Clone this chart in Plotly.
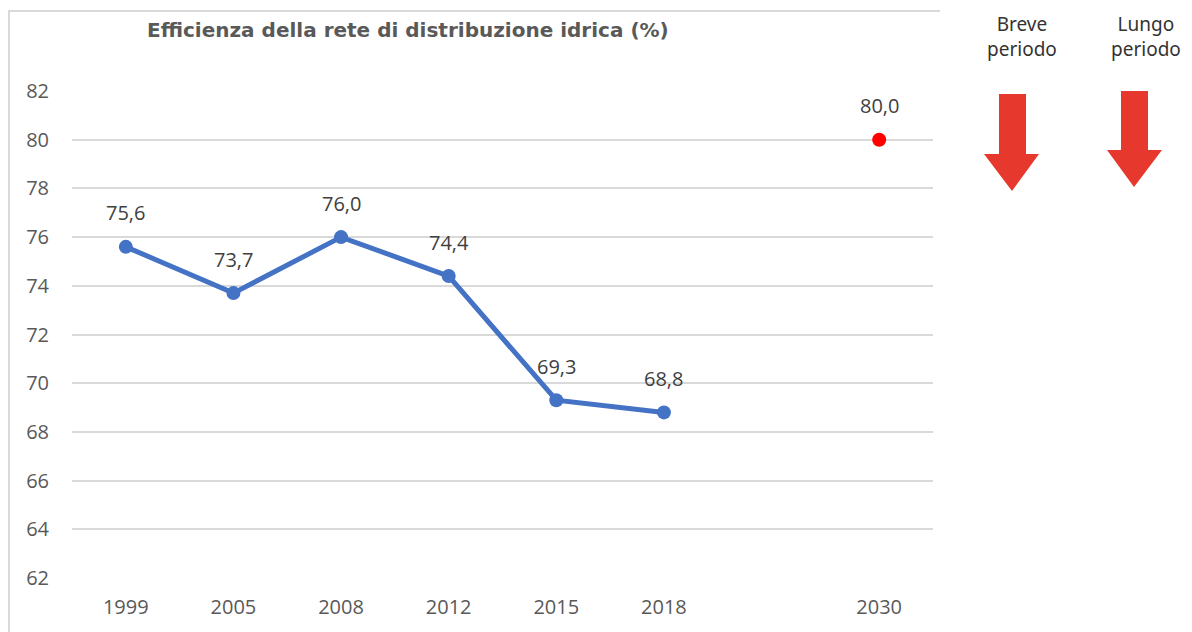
import plotly.graph_objects as go

# ---- data ----
categories = ["1999", "2005", "2008", "2012", "2015", "2018", " ", "2030"]
years = ["1999", "2005", "2008", "2012", "2015", "2018"]
efficiency = [75.6, 73.7, 76.0, 74.4, 69.3, 68.8]
target_year = ["2030"]
target_value = [80.0]
y_ticks = [62, 64, 66, 68, 70, 72, 74, 76, 78, 80, 82]
title_text = "Efficienza della rete di distribuzione idrica (%)"
side_labels = ["Breve<br>periodo", "Lungo<br>periodo"]

# the page body has an 8px default margin; work in screen pixels and offset
OFF = 8
W, H = 1192 - OFF, 632 - OFF
L, R, T, B = 72 - OFF, 259, 91 - OFF, 54
PW, PH = W - L - R, H - T - B


def px(x):
    return (x - OFF - L) / PW


def py(y):
    return (H - B - (y - OFF)) / PH


fmt = lambda v: f"{v:.1f}".replace(".", ",")

fig = go.Figure()
fig.add_trace(go.Scatter(
    x=years, y=efficiency, mode="lines+markers",
    line=dict(color="#4472C4", width=5),
    marker=dict(color="#4472C4", size=14),
    hoverinfo="skip", showlegend=False,
))
fig.add_trace(go.Scatter(
    x=target_year, y=target_value, mode="markers",
    marker=dict(color="#FF0000", size=14),
    hoverinfo="skip", showlegend=False,
))

annotations = []
for xv, yv in list(zip(years, efficiency)) + list(zip(target_year, target_value)):
    annotations.append(dict(
        x=categories.index(xv), y=yv, xref="x", yref="y", text=fmt(yv), showarrow=False,
        yshift=34, font=dict(family="Open Sans", size=20, color="#404040"),
    ))

annotations.append(dict(
    x=px(408), y=py(30), xref="paper", yref="paper", text=f"<b>{title_text}</b>",
    showarrow=False, xanchor="center", yanchor="middle",
    font=dict(family="DejaVu Sans", size=20, color="#595959"),
))
for cx, lab in zip([1022, 1146], side_labels):
    annotations.append(dict(
        x=px(cx), y=py(36), xref="paper", yref="paper", text=lab,
        showarrow=False, xanchor="center", yanchor="middle",
        font=dict(family="Noto Sans", size=19, color="#333333"),
    ))


def arrow(sx0, sx1, top, hx0, hx1, hy, tipx, tipy):
    pts = [(sx0, top), (sx1, top), (sx1, hy), (hx1, hy), (tipx, tipy), (hx0, hy), (sx0, hy)]
    return "M " + " L ".join(f"{px(a):.5f},{py(b):.5f}" for a, b in pts) + " Z"


shapes = [
    # chart frame
    dict(type="path", xref="paper", yref="paper",
         path=f"M {px(9):.5f},{py(700):.5f} L {px(9):.5f},{py(11):.5f} L {px(940):.5f},{py(11):.5f}",
         line=dict(color="#D9D9D9", width=2)),
    dict(type="path", xref="paper", yref="paper", fillcolor="#E6382D",
         path=arrow(999, 1026, 94, 984, 1039, 154, 1012, 191), line=dict(width=0)),
    dict(type="path", xref="paper", yref="paper", fillcolor="#E6382D",
         path=arrow(1121, 1148, 91, 1107, 1162, 150, 1134, 187), line=dict(width=0)),
]

fig.update_layout(
    width=W, height=H,
    margin=dict(l=L, r=R, t=T, b=B, autoexpand=False),
    paper_bgcolor="white", plot_bgcolor="white",
    annotations=annotations, shapes=shapes,
    xaxis=dict(type="category", categoryorder="array", categoryarray=categories,
               range=[-0.5, len(categories) - 0.5], showgrid=False, zeroline=False,
               showline=False, ticks="", ticklabelstandoff=15,
               tickfont=dict(family="Open Sans", size=20, color="#595959")),
    yaxis=dict(range=[62, 82], tickvals=y_ticks, showgrid=True, gridcolor="#D9D9D9",
               gridwidth=1.5, zeroline=False, showline=False, ticks="",
               ticklabelstandoff=22,
               tickfont=dict(family="Open Sans", size=20, color="#595959")),
)
fig.update_traces(cliponaxis=False)

fig.write_html("out.html")
